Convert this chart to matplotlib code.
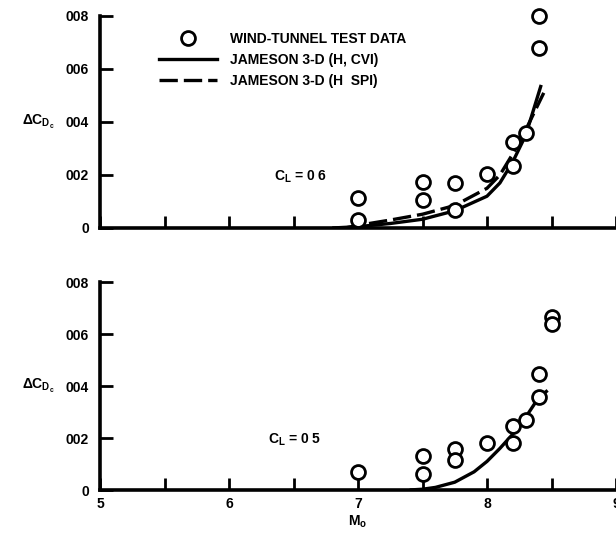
import matplotlib
matplotlib.use("Agg")
import matplotlib.pyplot as plt
from matplotlib.lines import Line2D

# Wind-tunnel test points, C_L = 0.6
test_m_06 = [7.0, 7.0, 7.5, 7.5, 7.75, 7.75, 8.0, 8.2, 8.2, 8.3, 8.4, 8.4]
test_cd_06 = [0.00114, 0.00029, 0.00174, 0.00104, 0.0017, 0.00067, 0.00203,
              0.00325, 0.00233, 0.00358, 0.0080, 0.00679]

# Jameson 3-D predictions, C_L = 0.6
cvi_m_06 = [6.8, 7.0, 7.25, 7.5, 7.75, 8.0, 8.1, 8.2, 8.3, 8.42]
cvi_cd_06 = [0.0, 0.00005, 0.00017, 0.00033, 0.00065, 0.0012, 0.0017, 0.0025, 0.0035, 0.0054]
spi_m_06 = [6.9, 7.0, 7.25, 7.5, 7.75, 8.0, 8.1, 8.2, 8.3, 8.44]
spi_cd_06 = [0.0, 0.0001, 0.0003, 0.00052, 0.00085, 0.0015, 0.0020, 0.0028, 0.0037, 0.0051]

# Wind-tunnel test points, C_L = 0.5
test_m_05 = [7.0, 7.5, 7.5, 7.75, 7.75, 8.0, 8.2, 8.2, 8.3, 8.4, 8.4, 8.5, 8.5]
test_cd_05 = [0.00071, 0.00132, 0.00063, 0.00159, 0.00115, 0.00181, 0.00248,
              0.00181, 0.00268, 0.00445, 0.00357, 0.00665, 0.00639]

# Jameson 3-D prediction (H, CVI), C_L = 0.5
cvi_m_05 = [7.4, 7.5, 7.6, 7.75, 7.9, 8.0, 8.1, 8.2, 8.3, 8.4, 8.47]
cvi_cd_05 = [0.0, 0.00003, 0.0001, 0.0003, 0.0007, 0.0011, 0.0016, 0.00215, 0.0028, 0.00355, 0.00383]

x_ticks = [5, 5.5, 6, 6.5, 7, 7.5, 8, 8.5, 9]
x_tick_labels = ["5", "", "6", "", "7", "", "8", "", "9"]
y_ticks = [0, 0.002, 0.004, 0.006, 0.008]
y_tick_labels = ["0", "002", "004", "006", "008"]

plt.rcParams["font.family"] = ["Liberation Sans", "DejaVu Sans"]
plt.rcParams["font.weight"] = "bold"
plt.rcParams["mathtext.fontset"] = "custom"
plt.rcParams["mathtext.rm"] = "Liberation Sans:bold"
plt.rcParams["mathtext.it"] = "Liberation Sans:bold"
plt.rcParams["mathtext.bf"] = "Liberation Sans:bold"

fig = plt.figure(figsize=(6.16, 5.34), dpi=100)
W, H = 616, 534


def make_axes(top_px, bottom_px):
    left = 100 / W
    return fig.add_axes([left, 1 - bottom_px / H, 1.0 - left, (bottom_px - top_px) / H])


ax1 = make_axes(16, 228)
ax2 = make_axes(282, 490)

LW = 2.4
marker_kw = dict(linestyle="none", marker="o", markersize=10, markerfacecolor="white",
                 markeredgecolor="black", markeredgewidth=2.0, zorder=5, clip_on=False)
dash = (0, (5.5, 1.8))

for ax in (ax1, ax2):
    ax.set_xlim(5, 9)
    ax.set_ylim(0, 0.008)
    for s in ("top", "right"):
        ax.spines[s].set_visible(False)
    for s in ("left", "bottom"):
        ax.spines[s].set_linewidth(2.6)
    ax.set_xticks(x_ticks)
    ax.set_yticks(y_ticks)
    ax.set_yticklabels(y_tick_labels)
    ax.tick_params(axis="both", direction="in", length=9, width=2.0, labelsize=10, pad=5)
    ax.tick_params(axis="y", pad=8)
    ax.set_ylabel(r"$\Delta C_{D_c}$", rotation=0, fontsize=10, labelpad=6, va="center")
    ax.yaxis.set_label_coords(-0.12, 0.5)

ax1.set_xticklabels([""] * len(x_ticks))
ax2.set_xticklabels(x_tick_labels, fontweight="bold")
ax2.set_xlabel(r"$M_o$", fontsize=10, labelpad=2)

# C_L = 0.6
ax1.plot(cvi_m_06, cvi_cd_06, color="black", lw=LW, solid_capstyle="butt")
ax1.plot(spi_m_06, spi_cd_06, color="black", lw=LW, linestyle=dash)
ax1.plot(test_m_06, test_cd_06, **marker_kw)
ax1.text(6.35, 0.00195, r"$C_L$ = 0 6", fontsize=10, fontweight="bold", va="center")

# C_L = 0.5
ax2.plot(cvi_m_05, cvi_cd_05, color="black", lw=LW, solid_capstyle="butt")
ax2.plot(test_m_05, test_cd_05, **marker_kw)
ax2.text(6.3, 0.00195, r"$C_L$ = 0 5", fontsize=10, fontweight="bold", va="center")

handles = [
    Line2D([], [], linestyle="none", marker="o", markersize=10, markerfacecolor="white",
           markeredgecolor="black", markeredgewidth=2.0),
    Line2D([], [], color="black", lw=LW),
    Line2D([], [], color="black", lw=LW, linestyle=dash),
]
labels = ["WIND-TUNNEL TEST DATA", "JAMESON 3-D (H, CVI)", "JAMESON 3-D (H  SPI)"]
ax1.legend(handles, labels, loc="upper left", bbox_to_anchor=(0.09, 0.985), frameon=False,
           handlelength=4.2, handletextpad=0.9, labelspacing=0.5, fontsize=10,
           prop={"weight": "bold", "size": 10})

fig.savefig("out.png", dpi=100)
